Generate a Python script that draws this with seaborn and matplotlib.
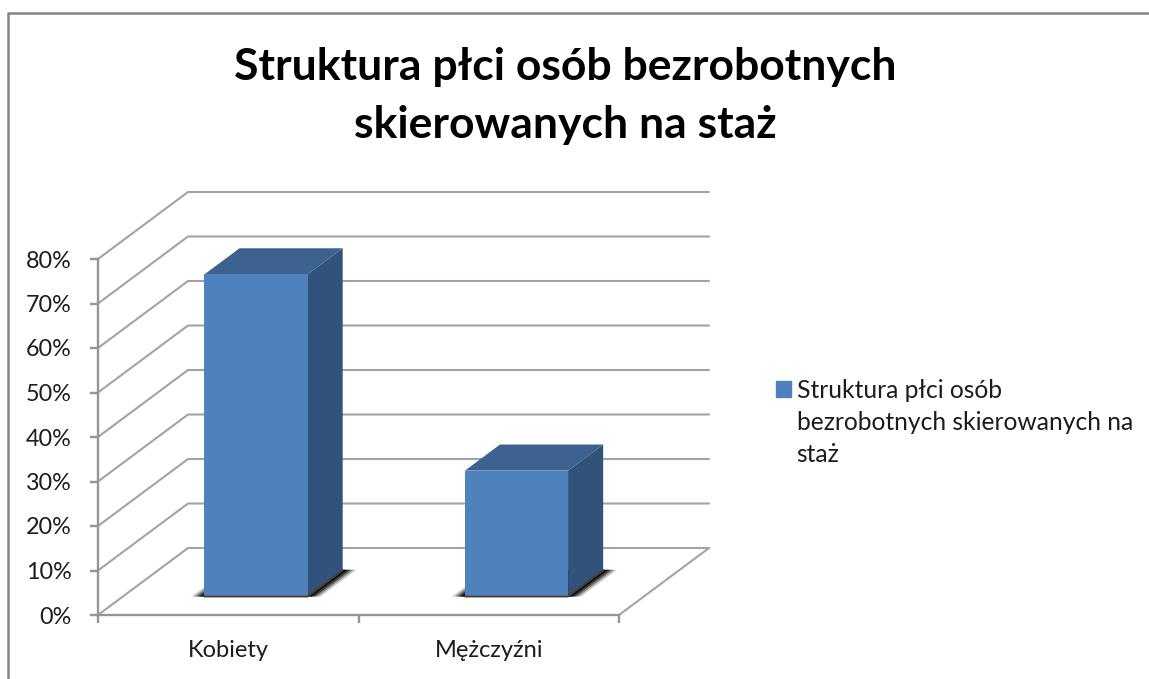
import matplotlib
matplotlib.use("Agg")
import matplotlib.pyplot as plt
import seaborn as sns
from matplotlib.lines import Line2D
from matplotlib.patches import Patch, Polygon
from matplotlib.transforms import Affine2D

categories = ["Kobiety", "Mężczyźni"]
values = [72.4, 28.3]
y_ticks = [0, 10, 20, 30, 40, 50, 60, 70, 80]
y_labels = ["0%", "10%", "20%", "30%", "40%", "50%", "60%", "70%", "80%"]
title = "Struktura płci osób bezrobotnych\nskierowanych na staż"
legend_lines = ["Struktura płci osób", "bezrobotnych skierowanych na", "staż"]

W, H = 1149, 679
GRID = "#a3a3a3"
AXIS = "#959595"
FRONT = "#4f81bd"
TOP = "#3c6290"
SIDE = "#31527a"
TEXT = "#1c1c1c"

sns.set_theme(style="white")
plt.rcParams["font.family"] = ["Lato", "DejaVu Sans"]

fig = plt.figure(figsize=(W / 100, H / 100), dpi=100)
left, right, top, bottom = 98, 619, 259, 615
ax = fig.add_axes([left / W, 1 - bottom / H, (right - left) / W, (bottom - top) / H])

sns.barplot(x=categories, y=values, color=FRONT, saturation=1, width=0.396, ax=ax, zorder=4)
ax.set_xlim(-0.5, 1.5)
ax.set_ylim(0, 80)

# depth of the fake 3d box, in data units
px_x = (right - left) / 2
px_y = (bottom - top) / 80
DX = 90 / px_x
DY = 67 / px_y
D0, D1 = 0.275, 0.665
NUDGE = 3 / px_x  # bars sit a little right of the depth line


def proj(x, y, d):
    return (x + d * DX, y + d * DY)


# back wall and side wall gridlines
for v in y_ticks:
    pts = [proj(-0.5, v, 0), proj(-0.5, v, 1), proj(1.5, v, 1)]
    ax.add_line(Line2D(*zip(*pts), color=GRID, lw=1.5, zorder=1, clip_on=False))
pts = [proj(1.5, 0, 1), proj(1.5, 0, 0)]
ax.add_line(Line2D(*zip(*pts), color=GRID, lw=1.5, zorder=1, clip_on=False))

# move front faces back into the box, then add top, side and shadow
shift = Affine2D().translate(D0 * DX * px_x + NUDGE * px_x, D0 * DY * px_y)
for bar in list(ax.patches):
    x0 = bar.get_x() + NUDGE
    x1 = x0 + bar.get_width()
    h = bar.get_height()
    bar.set_transform(ax.transData + shift)
    bar.set_clip_on(False)
    bar.set_linewidth(0)

    for pad, alpha in [(13, 0.2), (10, 0.35), (7, 0.55), (4, 0.8)]:
        e = pad / px_x
        floor = [proj(x0 - e, 0, D0), proj(x1 + e, 0, D0), proj(x1 + e, 0, D1 + 0.01), proj(x0 - e, 0, D1 + 0.01)]
        ax.add_patch(Polygon(floor, color="black", alpha=alpha, lw=0, zorder=2, clip_on=False))

    side = [proj(x1, 0, D0), proj(x1, 0, D1), proj(x1, h, D1), proj(x1, h, D0)]
    ax.add_patch(Polygon(side, color=SIDE, lw=0, zorder=3, clip_on=False))
    lid = [proj(x0, h, D0), proj(x1, h, D0), proj(x1, h, D1), proj(x0, h, D1)]
    ax.add_patch(Polygon(lid, color=TOP, lw=0, zorder=3, clip_on=False))
    edge = [proj(x0, 0, D0), proj(x1, 0, D0), proj(x1, 0, D1)]
    ax.add_line(Line2D(*zip(*edge), color="#4e3b2c", lw=1.3, zorder=5, clip_on=False))

sns.despine(ax=ax, top=True, right=True)
for s in ["left", "bottom"]:
    ax.spines[s].set_color(AXIS)
    ax.spines[s].set_linewidth(1.7)
ax.patch.set_alpha(0)
ax.set_yticks(y_ticks, y_labels)
ax.set_xticks([-0.5, 0.5, 1.5], ["", "", ""])
ax.set_xticks([0, 1], categories, minor=True)
ax.tick_params(axis="y", left=True, length=6, width=1.7, color=AXIS, pad=13, labelsize=16.8, labelcolor=TEXT)
ax.tick_params(axis="x", which="major", bottom=True, length=6, width=1.7, color=AXIS)
ax.tick_params(axis="x", which="minor", bottom=True, length=0, pad=18, labelsize=17, labelcolor=TEXT)

fig.text(565 / W, 1 - 96 / H, title, ha="center", va="center", fontsize=32, fontweight="bold",
         color="black", linespacing=1.56)

# legend: one entry per wrapped line so the swatch stays on the first line
handles = [Patch(color=FRONT), Patch(alpha=0), Patch(alpha=0)]
fig.legend(handles, legend_lines, loc="upper left", bbox_to_anchor=(776 / W, 1 - 379 / H),
           frameon=False, fontsize=17.7, handlelength=0.61, handleheight=0.61, handletextpad=0.23,
           labelspacing=0.37, borderpad=0, borderaxespad=0, labelcolor=TEXT)

# chart frame
fig.add_artist(Line2D([8 / W, 8 / W, 1], [0, 1 - 13 / H, 1 - 13 / H], color="#858585", lw=1.8))

fig.savefig("out.png", dpi=100)
